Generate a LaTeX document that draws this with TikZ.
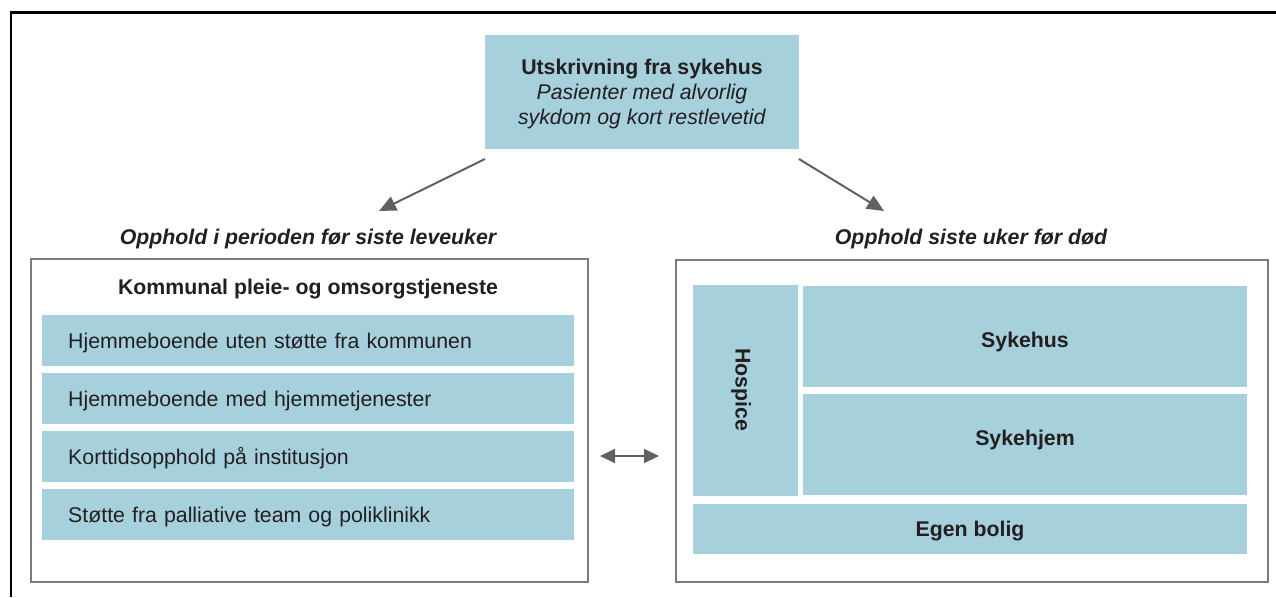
\documentclass[tikz,border=0pt]{standalone}
\usepackage{fontspec}
\setmainfont{Liberation Sans}
\usetikzlibrary{arrows.meta}
\definecolor{cellblue}{HTML}{A7D0DD}
\definecolor{txt}{HTML}{231F20}
\definecolor{framegray}{HTML}{7A7D7D}
\definecolor{arrowgray}{HTML}{5F6262}
\newcommand\fsz{\fontsize{21.3}{25}\selectfont}
\tikzset{
  cell/.style={fill=cellblue, draw=none, anchor=north west, inner sep=0pt, text=txt, font=\fsz},
  rowcell/.style={cell, inner xsep=26pt, text width=480pt, minimum height=51pt, align=left, text height=17.5pt, text depth=2.5pt},
  panel/.style={draw=framegray, line width=2pt, fill=white, anchor=north west, inner sep=0pt},
  caption/.style={text=txt, font=\fsz\bfseries\itshape},
  celltext/.style={text=txt, font=\fsz\bfseries},
  conn/.style={draw=arrowgray, line width=2pt, -{Triangle[length=17pt,width=15pt]}},
  dconn/.style={draw=arrowgray, line width=2pt, {Triangle[length=15pt,width=14pt]}-{Triangle[length=15pt,width=14pt]}}
}
\begin{document}
\begin{tikzpicture}[x=1pt,y=-1pt]
\useasboundingbox (0,0) rectangle (1276,597);
\draw[line width=2.5pt] (11,597) -- (11,12.5) -- (1276,12.5);

% top box
\node[cell, minimum width=314pt, minimum height=114pt] (top) at (485,35) {};
\node[text=txt, font=\fsz, align=center] (topt) at (642,93.5)
  {\textbf{Utskrivning fra sykehus}\\\textit{Pasienter med alvorlig}\\\textit{sykdom og kort restlevetid}};

% captions
\node[caption] (capL) at (308,239) {Opphold i perioden før siste leveuker};
\node[caption] (capR) at (971,239) {Opphold siste uker før død};

% panels
\node[panel, minimum width=557pt, minimum height=323pt] (left) at (30,258) {};
\node[panel, minimum width=592pt, minimum height=322pt] (right) at (675,259) {};

\node[celltext] (komm) at (308,289) {Kommunal pleie- og omsorgstjeneste};

\node[rowcell] (r1) at (42,315) {Hjemmeboende uten støtte fra kommunen};
\node[rowcell] (r2) at (42,373) {Hjemmeboende med hjemmetjenester};
\node[rowcell] (r3) at (42,431) {Korttidsopphold på institusjon};
\node[rowcell] (r4) at (42,489) {Støtte fra palliative team og poliklinikk};

% right cells
\node[cell, minimum width=105pt, minimum height=211pt] (hosp) at (693,285) {};
\node[rotate=-90, celltext] (hospt) at (741,390) {Hospice};
\node[cell, minimum width=444pt, minimum height=101pt] (syk) at (803,286) {};
\node[celltext] (sykt) at (1025,342) {Sykehus};
\node[cell, minimum width=444pt, minimum height=101pt] (sykh) at (803,394) {};
\node[celltext] (sykht) at (1025,440) {Sykehjem};
\node[cell, minimum width=554pt, minimum height=50pt] (egen) at (693,504) {};
\node[celltext] (egent) at (970,531.5) {Egen bolig};

% arrows
\coordinate (a1s) at (485,159);
\coordinate (a1e) at (379,211);
\coordinate (a2s) at (799,159);
\coordinate (a2e) at (884,211);
\draw[conn] (a1s) -- (a1e);
\draw[conn] (a2s) -- (a2e);
\coordinate (d1) at (600,456);
\coordinate (d2) at (659,456);
\draw[dconn] (d1) -- (d2);
\end{tikzpicture}
\end{document}
